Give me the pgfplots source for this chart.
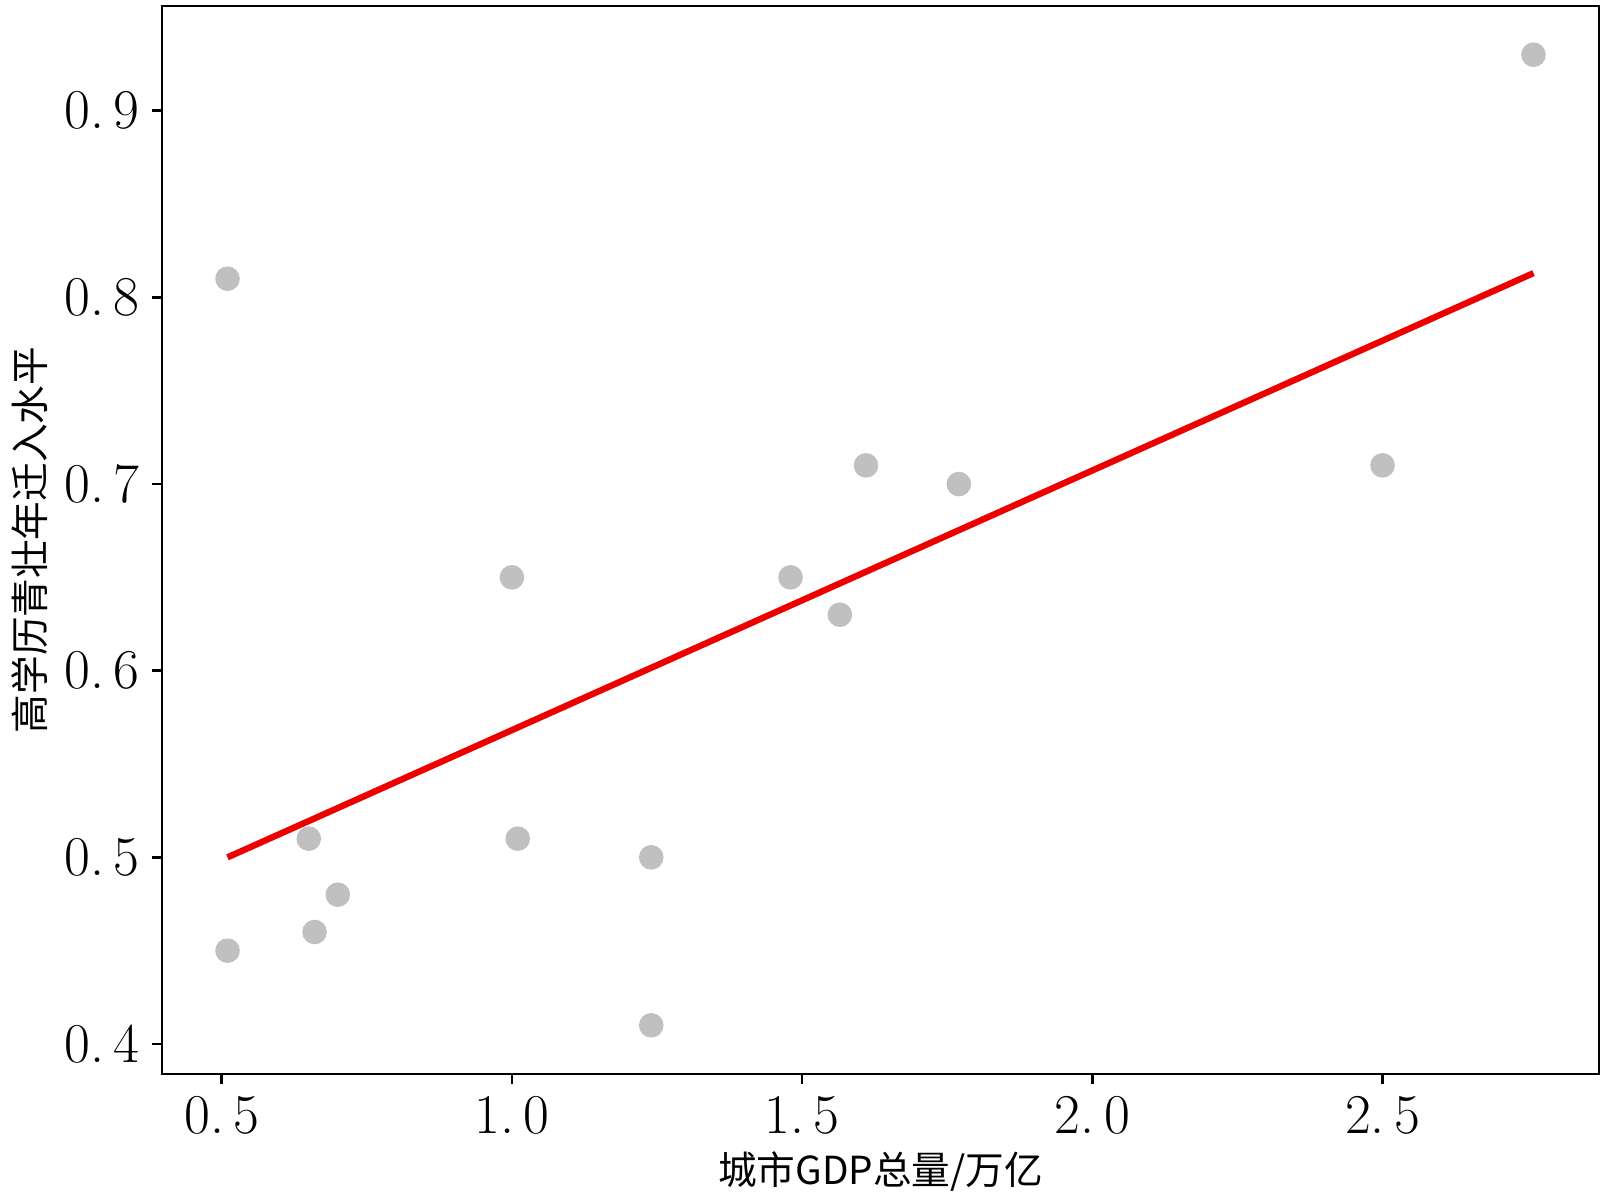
\documentclass[border=0pt]{standalone}
\usepackage{fontspec}
\usepackage{pgfplots}
\pgfplotsset{compat=1.18}
\newfontfamily\cjk{Noto Sans CJK SC}
\definecolor{dotgray}{RGB}{192,192,192}
\definecolor{fitred}{RGB}{238,0,0}

\begin{document}
\begin{tikzpicture}
\begin{axis}[
  scale only axis, width=14.37cm, height=10.68cm,
  xmin=0.3975, xmax=2.8725, ymin=0.384, ymax=0.956,
  xtick={0.5,1.0,1.5,2.0,2.5}, ytick={0.4,0.5,0.6,0.7,0.8,0.9},
  xticklabels={0.\,5,1.\,0,1.\,5,2.\,0,2.\,5},
  yticklabels={0.\,4,0.\,5,0.\,6,0.\,7,0.\,8,0.\,9},
  tick label style={font=\fontsize{16}{18}\selectfont},
  tick align=outside, major tick length=0.1cm,
  xtick pos=bottom, ytick pos=left,
  axis line style={line width=0.7pt}, tick style={line width=0.7pt,black},
  xlabel={\cjk\fontsize{11}{13}\selectfont 城市GDP总量/万亿},
  ylabel={\cjk\fontsize{11}{13}\selectfont 高学历青壮年迁入水平},
  xlabel style={yshift=2pt},
  ylabel style={yshift=-2pt},
]
\addplot[only marks, mark=*, mark size=3.3pt, color=dotgray] coordinates {
  (0.51,0.81) (0.51,0.45) (0.65,0.51) (0.66,0.46) (0.70,0.48)
  (1.00,0.65) (1.01,0.51) (1.24,0.50) (1.24,0.41) (1.48,0.65)
  (1.565,0.63) (1.61,0.71) (1.77,0.70) (2.50,0.71) (2.76,0.93)
};
\addplot[fitred, line width=1.8pt] coordinates {(0.51,0.500) (2.76,0.813)};
\end{axis}
\path (current bounding box.north) ++(0,0.05cm) coordinate (t);
\path[use as bounding box] (current bounding box.south west) rectangle (current bounding box.east |- t);
\end{tikzpicture}
\end{document}
